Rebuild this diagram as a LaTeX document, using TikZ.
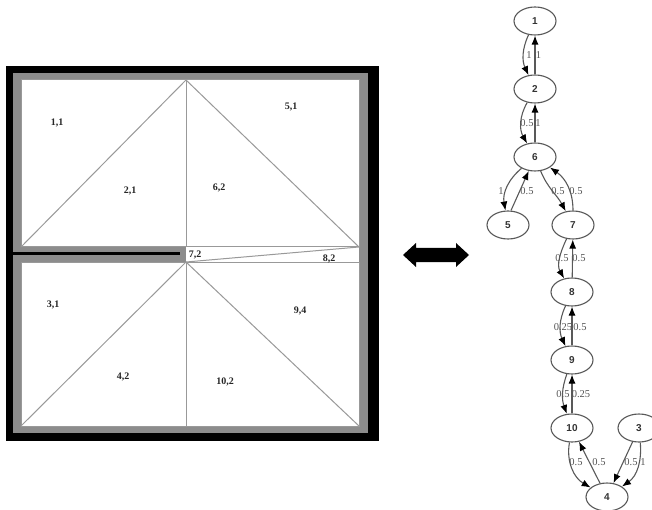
\documentclass[tikz,border=0pt]{standalone}
\usepackage{fontspec}
\setmainfont{Liberation Serif}
\setsansfont{Liberation Sans}
\usetikzlibrary{shapes.geometric,arrows.meta}
\definecolor{wallgray}{gray}{0.55}
\definecolor{linegray}{gray}{0.6}
\definecolor{edgegray}{gray}{0.35}
\definecolor{lblgray}{gray}{0.33}
\tikzset{
  state/.style={draw=edgegray,line width=1.1pt,ellipse,minimum width=42pt,minimum height=28pt,inner sep=0pt,fill=white,font=\sffamily\fontsize{10}{10}\selectfont\bfseries,text=black!80},
  link/.style={draw=edgegray,line width=1.1pt,-{Latex[length=9pt,width=7pt,black]}},
  wt/.style={font=\fontsize{10.5}{11}\selectfont,text=lblgray,inner sep=0pt},
  room/.style={font=\fontsize{10}{10}\selectfont\bfseries,text=black!85,inner sep=0pt,yshift=-0.7pt},
  mesh/.style={draw=linegray,line width=1pt},
}
\begin{document}
\begin{tikzpicture}[x=1pt,y=-1pt]
\useasboundingbox (0,0) rectangle (652,510);
\clip (0,0) rectangle (652,510);
% plan
\fill[black] (6,66) rectangle (379,441);
\fill[wallgray] (13,73) rectangle (368,433);
\fill[white] (21,80) rectangle (359,247);
\fill[white] (21,262) rectangle (359,426);
\fill[white] (186,247) rectangle (359,262);
\fill[black] (13,252.5) rectangle (180,255.5);
\draw[mesh] (21,80) rectangle (359,247);
\draw[mesh] (21,262) rectangle (359,426);
\draw[mesh] (186,247) -- (359,247);
\draw[mesh] (186,262) -- (359,262);
\draw[mesh] (21,247) -- (186,80) -- (359,247) -- (186,262);
\draw[mesh] (186,80) -- (186,247);
\draw[mesh] (21,426) -- (186,262) -- (359,426);
\draw[mesh] (186,262) -- (186,426);
\node[room] (r11) at (57,122) {1,1};
\node[room] (r21) at (130,190) {2,1};
\node[room] (r62) at (219,187) {6,2};
\node[room] (r51) at (291,106) {5,1};
\node[room] (r72) at (195,254) {7,2};
\node[room] (r82) at (329,258) {8,2};
\node[room] (r31) at (53,304) {3,1};
\node[room] (r42) at (123,376) {4,2};
\node[room] (r94) at (300,310) {9,4};
\node[room] (r102) at (225,381) {10,2};
% double arrow
\fill[black] (403,255) -- (416,243) -- (416,248) -- (456,248) -- (456,243) -- (469,255) -- (456,267) -- (456,262) -- (416,262) -- (416,267) -- cycle;
% graph
\node[state] (n1) at (535,21) {1};
\node[state] (n2) at (535,89) {2};
\node[state] (n6) at (535,157) {6};
\node[state] (n5) at (508,225) {5};
\node[state] (n7) at (573,225) {7};
\node[state] (n8) at (572,292) {8};
\node[state] (n9) at (572,360) {9};
\node[state] (n10) at (572,428) {10};
\node[state] (n3) at (639,428) {3};
\node[state] (n4) at (607,497) {4};
\draw[link] (n1) to[out=-115,in=115] (n2);
\draw[link] (n2) -- (n1);
\draw[link] (n2) to[out=-120,in=120] (n6);
\draw[link] (n6) -- (n2);
\draw[link] (n6) to[out=-140,in=100] (n5);
\draw[link] ([xshift=3pt]n5.north) -- (n6);
\draw[link] (n6) to[out=-68,in=118] (n7);
\draw[link] (n7) to[out=90,in=-35] (n6);
\draw[link] (n7) to[out=-115,in=120] (n8);
\draw[link] (n8) -- (n7);
\draw[link] (n8) to[out=-115,in=115] (n9);
\draw[link] (n9) -- (n8);
\draw[link] (n9) to[out=-110,in=110] (n10);
\draw[link] (n10) -- (n9);
\draw[link] (n10) to[out=-100,in=150] (n4);
\draw[link] (n4) -- (n10);
\draw[link] (n3) -- (n4);
\draw[link] (n3) to[out=-85,in=35] (n4);
\node[wt] (e1) at (529,55) {1};
\node[wt] (e2) at (538.5,55) {1};
\node[wt] (e3) at (527,123) {0.5};
\node[wt] (e4) at (538,123) {1};
\node[wt] (e5) at (501,191) {1};
\node[wt] (e6) at (527,191) {0.5};
\node[wt] (e7) at (558,191) {0.5};
\node[wt] (e8) at (576,191) {0.5};
\node[wt] (e9) at (562,258) {0.5};
\node[wt] (e10) at (579,258) {0.5};
\node[wt] (e11) at (563,327) {0.25};
\node[wt] (e12) at (580,327) {0.5};
\node[wt] (e13) at (563,394) {0.5};
\node[wt] (e14) at (581,394) {0.25};
\node[wt] (e15) at (576,462) {0.5};
\node[wt] (e16) at (599,462) {0.5};
\node[wt] (e17) at (631,462) {0.5};
\node[wt] (e18) at (643,462) {1};
\end{tikzpicture}
\end{document}
